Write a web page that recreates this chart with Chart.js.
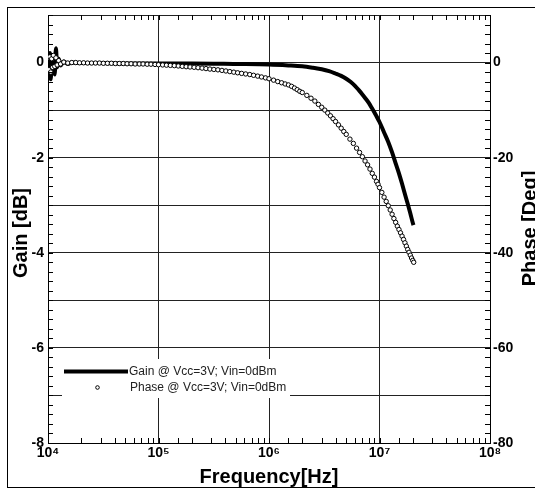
<!DOCTYPE html>
<html>
<head>
<meta charset="utf-8">
<script src="https://cdn.jsdelivr.net/npm/chart.js@4"></script>
<style>
  html, body { margin: 0; padding: 0; background: #fff; }
  #wrap { width: 535px; height: 489px; }
</style>
</head>
<body>
<div id="wrap"><canvas id="bodeChart"></canvas></div>
<script>
// gain sweep (Hz / dB)
const gainFreq = [1.00e4, 1.02e4, 1.04e4, 1.06e4, 1.08e4, 1.10e4, 1.12e4, 1.15e4, 1.18e4, 1.21e4, 1.25e4, 1.30e4, 1.39e4, 1.51e4, 1.64e4,
                  2e4, 3e4, 5e4, 1e5, 2e5, 5e5, 1e6,
                  1.5e6, 2e6, 2.5e6, 3e6, 3.5e6, 4e6, 4.5e6, 5e6, 5.5e6, 6e6, 6.5e6, 7e6, 7.5e6, 8e6, 8.5e6, 9e6, 9.5e6,
                  1e7, 1.1e7, 1.2e7, 1.3e7, 1.4e7, 1.5e7, 1.6e7, 1.7e7, 1.8e7, 1.9e7, 2e7, 2.03e7];
const gainDb = [0.05, -0.15, 0.2, -0.35, 0.1, -0.2, 0.15, -0.25, 0.3, -0.1, 0.08, -0.06, 0.02, -0.03, 0,
                -0.01, -0.01, -0.02, -0.02, -0.02, -0.03, -0.04,
                -0.06, -0.08, -0.11, -0.14, -0.18, -0.23, -0.28, -0.34, -0.41, -0.49, -0.58, -0.67, -0.76, -0.85, -0.95, -1.05, -1.15,
                -1.25, -1.47, -1.67, -1.89, -2.12, -2.33, -2.55, -2.77, -2.97, -3.17, -3.37, -3.42];

// phase sweep (Hz / deg)
const phaseFreq = [1.00e4, 1.02e4, 1.04e4, 1.06e4, 1.08e4, 1.10e4, 1.12e4, 1.15e4, 1.18e4, 1.21e4, 1.25e4, 1.30e4, 1.39e4, 1.51e4,
                   1.64e4, 1.78e4, 1.93e4, 2.10e4, 2.28e4, 2.48e4, 2.69e4, 2.92e4, 3.17e4, 3.45e4, 3.75e4, 4.07e4, 4.42e4, 4.80e4,
                   5.20e4, 5.65e4, 6.15e4, 6.70e4, 7.25e4, 7.90e4, 8.55e4, 9.30e4,
                   1.00e5, 1.09e5, 1.18e5, 1.28e5, 1.39e5, 1.51e5, 1.64e5, 1.78e5, 1.93e5, 2.10e5, 2.28e5, 2.48e5, 2.69e5, 2.92e5,
                   3.17e5, 3.45e5, 3.75e5, 4.07e5, 4.42e5, 4.80e5, 5.20e5, 5.65e5, 6.15e5, 6.70e5, 7.25e5, 7.90e5, 8.55e5, 9.30e5,
                   1.0e6, 1.1e6, 1.2e6, 1.3e6, 1.4e6, 1.5e6, 1.6e6, 1.7e6, 1.8e6, 1.9e6,
                   2.0e6, 2.2e6, 2.4e6, 2.6e6, 2.8e6, 3.0e6, 3.2e6, 3.4e6, 3.6e6, 3.8e6, 4.0e6, 4.25e6, 4.5e6, 4.75e6,
                   5.0e6, 5.4e6, 5.8e6, 6.2e6, 6.6e6, 7.0e6, 7.4e6, 7.8e6, 8.2e6, 8.6e6, 9.0e6, 9.4e6, 9.7e6,
                   1.00e7, 1.05e7, 1.10e7, 1.15e7, 1.20e7, 1.25e7, 1.30e7, 1.35e7, 1.40e7, 1.45e7, 1.50e7, 1.55e7, 1.60e7,
                   1.65e7, 1.70e7, 1.75e7, 1.80e7, 1.85e7, 1.90e7, 1.95e7, 2.00e7, 2.04e7];
const phaseDeg = [1.0, -1.5, 1.2, -2.0, 0.8, -1.0, 1.5, -0.8, 1.0, -0.5, 0.4, -0.3, 0.1, -0.1,
                  0, 0, -0.05, -0.05, -0.1, -0.1, -0.1, -0.1, -0.15, -0.15, -0.15, -0.2, -0.2, -0.2,
                  -0.25, -0.25, -0.3, -0.3, -0.3, -0.35, -0.35, -0.4,
                  -0.45, -0.5, -0.55, -0.6, -0.65, -0.72, -0.8, -0.87, -0.93, -1.0, -1.08, -1.17, -1.27, -1.37,
                  -1.45, -1.53, -1.65, -1.77, -1.9, -2.02, -2.15, -2.28, -2.4, -2.52, -2.68, -2.85, -3.03, -3.22,
                  -3.4, -3.7, -4.0, -4.25, -4.5, -4.7, -5.0, -5.35, -5.7, -6.05,
                  -6.3, -6.9, -7.5, -8.1, -8.8, -9.4, -10.0, -10.6, -11.2, -11.8, -12.4, -13.1, -13.8, -14.5,
                  -15.1, -16.1, -17.0, -18.0, -18.9, -19.8, -20.7, -21.5, -22.4, -23.3, -24.1, -25.0, -25.6,
                  -26.3, -27.3, -28.3, -29.2, -30.1, -31.0, -31.9, -32.8, -33.6, -34.4, -35.1, -35.8, -36.5,
                  -37.2, -37.9, -38.6, -39.3, -39.9, -40.5, -41.1, -41.6, -42.0];

const legendLabels = ['Gain @ Vcc=3V; Vin=0dBm', 'Phase @ Vcc=3V; Vin=0dBm'];
const xTitle = 'Frequency[Hz]';
const yTitle = 'Gain [dB]';
const y2Title = 'Phase [Deg]';

const sup = {'0': '\u2070', '1': '\u00b9', '2': '\u00b2', '3': '\u00b3', '4': '\u2074', '5': '\u2075', '6': '\u2076', '7': '\u2077', '8': '\u2078', '9': '\u2079'};
const isDecade = v => Math.abs(Math.log10(v) - Math.round(Math.log10(v))) < 1e-9;
const isWhole = v => Math.abs(v - Math.round(v)) < 1e-6;

const tickFont = { family: "'Liberation Sans', Arial, sans-serif", size: 14, weight: 'bold' };
const gridCol = '#222';

// frame, inner ticks, legend and axis titles
const decor = {
  id: 'decor',
  beforeDraw(chart) {
    const ctx = chart.ctx;
    ctx.save();
    ctx.fillStyle = '#fff';
    ctx.fillRect(0, 0, chart.width, chart.height);
    ctx.strokeStyle = '#000';
    ctx.lineWidth = 1;
    ctx.strokeRect(7.5, 7.5, 545, 480);
    ctx.restore();
  },
  afterDraw(chart) {
    const {ctx, chartArea: a, scales} = chart;
    ctx.save();
    ctx.strokeStyle = '#000';
    ctx.lineWidth = 1;
    ctx.beginPath();
    scales.y.ticks.forEach(t => {
      const py = Math.round(scales.y.getPixelForValue(t.value)) + 0.5;
      ctx.moveTo(a.left, py); ctx.lineTo(a.left + 5, py);
      ctx.moveTo(a.right, py); ctx.lineTo(a.right - 5, py);
    });
    scales.x.ticks.forEach(t => {
      const px = Math.round(scales.x.getPixelForValue(t.value)) + 0.5;
      ctx.moveTo(px, a.bottom); ctx.lineTo(px, a.bottom - 5);
      ctx.moveTo(px, a.top); ctx.lineTo(px, a.top + 5);
    });
    ctx.stroke();

    // legend
    const lx = a.left + 14, ly = a.top + 344;
    ctx.fillStyle = '#fff';
    ctx.fillRect(lx, ly, 228, 39);
    ctx.beginPath();
    ctx.lineWidth = 4;
    ctx.moveTo(lx + 2, ly + 12.5);
    ctx.lineTo(lx + 66, ly + 12.5);
    ctx.stroke();
    ctx.lineWidth = 1;
    ctx.beginPath();
    ctx.arc(lx + 35.5, ly + 28.5, 1.8, 0, Math.PI * 2);
    ctx.fill();
    ctx.stroke();
    ctx.fillStyle = '#222';
    ctx.font = "12px 'Liberation Sans', Arial, sans-serif";
    ctx.textBaseline = 'middle';
    ctx.fillText(legendLabels[0], lx + 67, ly + 12.5);
    ctx.fillText(legendLabels[1], lx + 68, ly + 28.5);

    // titles
    ctx.fillStyle = '#000';
    ctx.font = "bold 20px 'Liberation Sans', Arial, sans-serif";
    ctx.textAlign = 'center';
    ctx.textBaseline = 'alphabetic';
    ctx.fillText(xTitle, (a.left + a.right) / 2, 483);
    ctx.save();
    ctx.translate(26.5, 233);
    ctx.rotate(-Math.PI / 2);
    ctx.fillText(yTitle, 0, 0);
    ctx.restore();
    ctx.save();
    ctx.translate(535.5, 228.5);
    ctx.rotate(-Math.PI / 2);
    ctx.fillText(y2Title, 0, 0);
    ctx.restore();
    ctx.restore();
  }
};

new Chart(document.getElementById('bodeChart'), {
  type: 'scatter',
  data: {
    datasets: [{
      label: legendLabels[0],
      data: gainFreq.map((f, i) => ({x: f, y: gainDb[i]})),
      yAxisID: 'y',
      showLine: true,
      borderColor: '#000',
      borderWidth: 4,
      pointRadius: 0,
      cubicInterpolationMode: 'monotone',
      order: 2
    }, {
      label: legendLabels[1],
      data: phaseFreq.map((f, i) => ({x: f, y: phaseDeg[i]})),
      yAxisID: 'y2',
      showLine: false,
      pointStyle: 'circle',
      pointRadius: 2.2,
      pointBorderWidth: 1,
      pointBorderColor: '#000',
      pointBackgroundColor: '#fff',
      order: 1
    }]
  },
  options: {
    responsive: true,
    maintainAspectRatio: false,
    animation: false,
    layout: { padding: { top: 15, left: 0, right: 0, bottom: 0 } },
    plugins: { legend: { display: false }, tooltip: { enabled: false } },
    scales: {
      x: {
        type: 'logarithmic',
        position: 'bottom',
        min: 1e4,
        max: 1e8,
        afterFit: s => { s.height = 46; },
        ticks: {
          autoSkip: false,
          maxRotation: 0,
          padding: 2,
          color: '#000',
          font: tickFont,
          callback: v => isDecade(v) ? '10' + String(Math.round(Math.log10(v))).split('').map(c => sup[c]).join('') : ''
        },
        grid: {
          color: c => isDecade(c.tick.value) ? gridCol : 'rgba(0,0,0,0)',
          drawTicks: false
        },
        border: { color: '#000' }
      },
      y: {
        position: 'left',
        min: -8,
        max: 1,
        afterFit: s => { s.width = 48; },
        ticks: {
          stepSize: 0.2,
          autoSkip: false,
          padding: 4,
          color: '#000',
          font: tickFont,
          callback: v => (isWhole(v) && Math.round(v) % 2 === 0) ? String(Math.round(v)) : ''
        },
        grid: {
          color: c => isWhole(c.tick.value) ? gridCol : 'rgba(0,0,0,0)',
          drawTicks: false
        },
        border: { color: '#000' }
      },
      y2: {
        position: 'right',
        min: -80,
        max: 10,
        afterFit: s => { s.width = 45; },
        ticks: {
          stepSize: 20,
          autoSkip: false,
          padding: 3,
          color: '#000',
          font: tickFont,
          callback: v => (Math.round(v) % 20 === 0) ? String(Math.round(v)) : ''
        },
        grid: { drawOnChartArea: false, drawTicks: false },
        border: { color: '#000' }
      }
    }
  },
  plugins: [decor]
});
</script>
</body>
</html>
